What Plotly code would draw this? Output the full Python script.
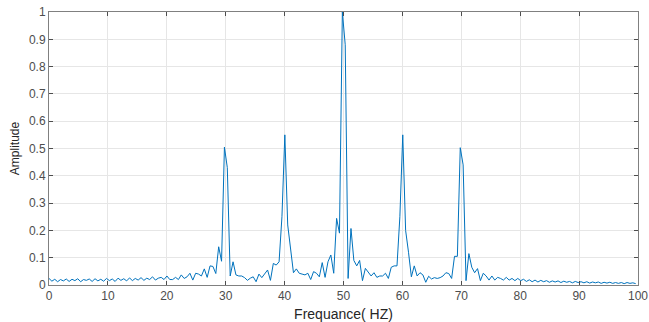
import plotly.graph_objects as go

# frequency resolution of the spectrum (Hz per bin) and bin count shown
df = 1000 / 2048
n_bins = 205
freq = [k * df for k in range(n_bins)]

amp_0_20 = [0.024, 0.014, 0.021, 0.012, 0.020, 0.015, 0.022, 0.013, 0.021, 0.016,
            0.023, 0.012, 0.020, 0.017, 0.022, 0.013, 0.023, 0.015, 0.021, 0.014,
            0.024, 0.016, 0.022, 0.013, 0.025, 0.017, 0.023, 0.015, 0.026, 0.016,
            0.024, 0.018, 0.027, 0.017, 0.025, 0.020, 0.030, 0.018, 0.025, 0.028,
            0.020]
amp_20_40 = [0.033, 0.020, 0.020, 0.028, 0.020, 0.037, 0.024, 0.030, 0.043, 0.018,
             0.043, 0.040, 0.033, 0.059, 0.028, 0.070, 0.068, 0.042, 0.140, 0.087,
             0.505, 0.430, 0.033, 0.085, 0.037, 0.033, 0.033, 0.027, 0.017, 0.025,
             0.030, 0.012, 0.040, 0.027, 0.040, 0.055, 0.017, 0.079, 0.073, 0.085,
             0.250]
amp_40_60 = [0.550, 0.220, 0.120, 0.045, 0.059, 0.043, 0.040, 0.037, 0.043, 0.020,
             0.049, 0.043, 0.030, 0.082, 0.028, 0.085, 0.110, 0.043, 0.244, 0.190,
             1.000, 0.880, 0.024, 0.207, 0.090, 0.070, 0.090, 0.016, 0.061, 0.045,
             0.033, 0.045, 0.028, 0.033, 0.033, 0.043, 0.024, 0.065, 0.070, 0.070,
             0.250]
amp_60_80 = [0.550, 0.200, 0.120, 0.030, 0.070, 0.033, 0.045, 0.037, 0.010, 0.032,
             0.022, 0.027, 0.024, 0.027, 0.033, 0.045, 0.042, 0.024, 0.105, 0.105,
             0.503, 0.440, 0.016, 0.115, 0.065, 0.045, 0.060, 0.016, 0.043, 0.033,
             0.018, 0.033, 0.018, 0.028, 0.024, 0.018, 0.028, 0.018, 0.024, 0.016,
             0.024]
amp_80_100 = [0.016, 0.021, 0.013, 0.019, 0.012, 0.018, 0.011, 0.017, 0.012, 0.016,
              0.010, 0.015, 0.011, 0.015, 0.009, 0.014, 0.010, 0.013, 0.008, 0.013,
              0.009, 0.012, 0.008, 0.012, 0.007, 0.011, 0.008, 0.011, 0.006, 0.010,
              0.007, 0.010, 0.006, 0.009, 0.006, 0.009, 0.005, 0.009, 0.006, 0.008,
              0.005]

amplitude = amp_0_20 + amp_20_40 + amp_40_60 + amp_60_80 + amp_80_100

x_ticks = list(range(0, 101, 10))
y_ticks = [0, 0.1, 0.2, 0.3, 0.4, 0.5, 0.6, 0.7, 0.8, 0.9, 1]
y_tick_text = ["0", "0.1", "0.2", "0.3", "0.4", "0.5", "0.6", "0.7", "0.8", "0.9", "1"]

fig = go.Figure()
fig.add_trace(go.Scatter(x=freq, y=amplitude, mode="lines",
                         line=dict(color="#0072BD", width=1), hoverinfo="skip"))

axis_common = dict(
    showline=True, linecolor="#808080", linewidth=1, mirror="ticks",
    ticks="inside", ticklen=4, tickcolor="#4d4d4d", tickwidth=1,
    showgrid=True, gridcolor="#e6e6e6", gridwidth=1, zeroline=False,
    automargin=False,
    tickfont=dict(family="Liberation Sans, Arial, sans-serif", size=12, color="#4d4d4d"),
)

fig.update_layout(
    width=649, height=322,
    margin=dict(l=49, r=11, t=12, b=37),
    paper_bgcolor="white", plot_bgcolor="white",
    showlegend=False,
    xaxis=dict(range=[0, 100], tickvals=x_ticks,
               title=dict(text="Frequance( HZ)", standoff=6,
                          font=dict(family="Liberation Sans, Arial, sans-serif", size=14, color="#262626")),
               **axis_common),
    yaxis=dict(range=[0, 1], tickvals=y_ticks, ticktext=y_tick_text,
               title=dict(text="Amplitude", standoff=6,
                          font=dict(family="Liberation Sans, Arial, sans-serif", size=12, color="#262626")),
               **axis_common),
)

fig.write_html("out.html")
